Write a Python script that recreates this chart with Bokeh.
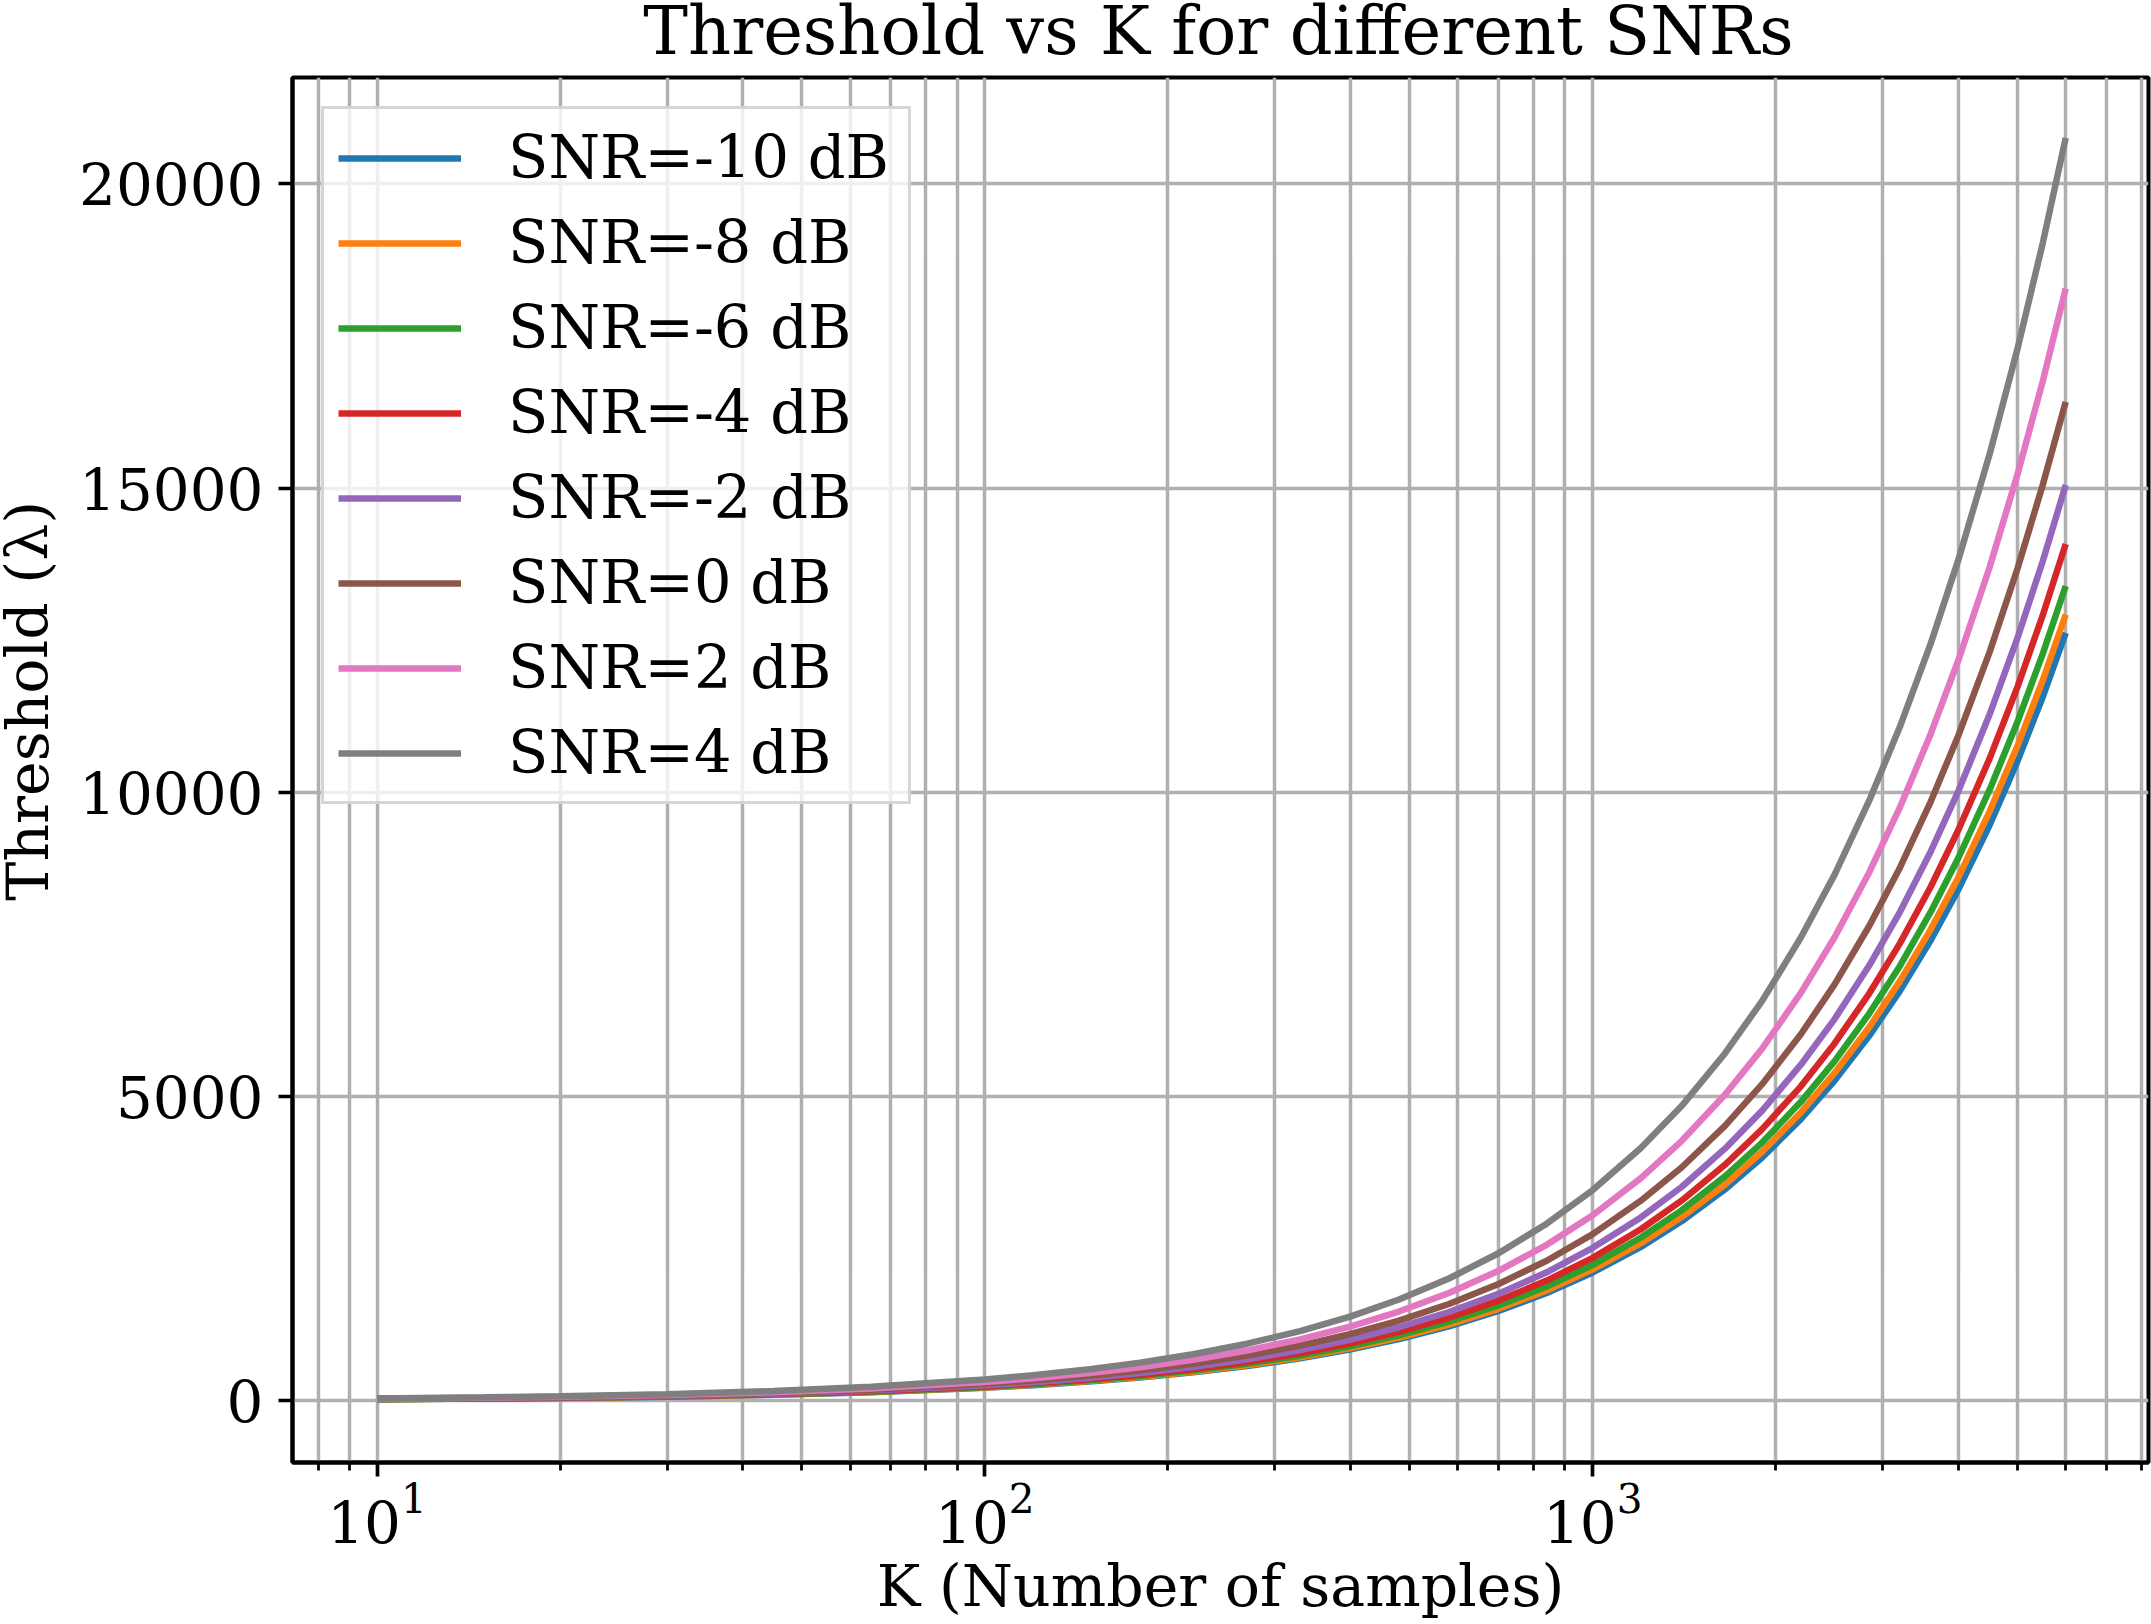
from bokeh.plotting import figure
from bokeh.layouts import column, row
from bokeh.models import Range1d, FixedTicker, Legend, LegendItem, Label
from bokeh.embed import file_html
from bokeh.resources import INLINE

# ---- data ----
K = [10, 15, 20, 30, 45, 65, 100, 120, 150, 180, 220, 270, 330, 400, 480, 580, 700, 840,
     1000, 1200, 1400, 1650, 1900, 2200, 2500, 2850, 3200, 3600, 4000, 4500, 5000, 5500, 6000]

snr_labels = ["SNR=-10 dB", "SNR=-8 dB", "SNR=-6 dB", "SNR=-4 dB",
              "SNR=-2 dB", "SNR=0 dB", "SNR=2 dB", "SNR=4 dB"]

thr_snr_m10 = [21, 32, 42, 63, 95, 137, 210, 252, 315, 379, 463, 568, 694, 841, 1009, 1220, 1472, 1767,
               2105, 2525, 2945, 3470, 3995, 4625, 5260, 5995, 6730, 7570, 8410, 9465, 10515, 11565, 12620]
thr_snr_m8 = [21, 32, 43, 65, 97, 140, 215, 258, 323, 388, 474, 581, 710, 861, 1033, 1249, 1507, 1809,
              2155, 2585, 3015, 3550, 4090, 4735, 5385, 6135, 6890, 7750, 8610, 9690, 10765, 11840, 12920]
thr_snr_m6 = [22, 33, 45, 67, 100, 145, 223, 268, 335, 402, 491, 603, 737, 893, 1071, 1295, 1562, 1875,
              2230, 2680, 3125, 3685, 4240, 4910, 5580, 6360, 7140, 8035, 8930, 10045, 11160, 12275, 13390]
thr_snr_m4 = [23, 35, 47, 70, 106, 153, 235, 282, 352, 422, 516, 634, 775, 939, 1127, 1361, 1643, 1971,
              2345, 2815, 3285, 3875, 4460, 5165, 5870, 6690, 7510, 8450, 9390, 10560, 11735, 12910, 14080]
thr_snr_m2 = [25, 38, 50, 75, 113, 163, 250, 301, 376, 451, 552, 677, 828, 1003, 1204, 1455, 1756, 2107,
              2510, 3010, 3510, 4140, 4765, 5520, 6270, 7150, 8025, 9030, 10030, 11285, 12540, 13795, 15050]
thr_snr_0 = [27, 41, 55, 82, 123, 178, 275, 328, 410, 492, 602, 739, 903, 1094, 1313, 1587, 1915, 2298,
             2735, 3285, 3830, 4515, 5200, 6020, 6840, 7800, 8755, 9850, 10945, 12310, 13680, 15050, 16415]
thr_snr_2 = [30, 46, 61, 91, 137, 198, 305, 366, 457, 548, 670, 822, 1005, 1218, 1462, 1767, 2132, 2559,
             3045, 3655, 4265, 5025, 5785, 6700, 7615, 8680, 9745, 10965, 12185, 13705, 15230, 16755, 18280]
thr_snr_4 = [35, 52, 69, 104, 156, 225, 345, 415, 519, 623, 761, 934, 1141, 1384, 1660, 2006, 2421, 2906,
             3460, 4150, 4840, 5705, 6570, 7610, 8645, 9860, 11070, 12450, 13835, 15565, 17295, 19025, 20755]

series = [thr_snr_m10, thr_snr_m8, thr_snr_m6, thr_snr_m4,
          thr_snr_m2, thr_snr_0, thr_snr_2, thr_snr_4]

colors = ["#1f77b4", "#ff7f0e", "#2ca02c", "#d62728",
          "#9467bd", "#8c564b", "#e377c2", "#7f7f7f"]

x_major = [10, 100, 1000]
x_minor = [8, 9, 20, 30, 40, 50, 60, 70, 80, 90,
           200, 300, 400, 500, 600, 700, 800, 900,
           2000, 3000, 4000, 5000, 6000, 7000, 8000]
y_major = [0, 5000, 10000, 15000, 20000]

title_text = "Threshold vs K for different SNRs"
x_label = "K (Number of samples)"
y_label = "Threshold (\u03bb)"

FONT = "DejaVu Serif"
W, H = 2151, 1624
TITLE_H = 73          # strip holding the title
YLAB_W = 75           # strip holding the y-axis label
MAIN_W = W - YLAB_W
MAIN_H = H - TITLE_H
FRAME_LEFT = 288      # canvas x of the plot frame's left edge
FRAME_TOP = 77
FRAME_BOTTOM = 1462
FRAME_RIGHT = 2148


def blank(width, height):
    f = figure(width=width, height=height, x_range=Range1d(0, width), y_range=Range1d(0, height),
               output_backend="svg", toolbar_location=None, title=None,
               min_border_left=0, min_border_right=0, min_border_top=0, min_border_bottom=0,
               x_axis_location=None, y_axis_location=None)
    f.outline_line_color = None
    f.xgrid.visible = False
    f.ygrid.visible = False
    f.background_fill_color = "white"
    f.border_fill_color = "white"
    return f


# ---- title strip ----
tf = blank(W, TITLE_H)
tf.add_layout(Label(x=(FRAME_LEFT + FRAME_RIGHT) / 2, y=TITLE_H - 30, text=title_text,
                    text_font=FONT, text_font_size="67px", text_color="black",
                    text_align="center", text_baseline="middle"))

# ---- y label strip ----
yf = blank(YLAB_W, MAIN_H)
yf.add_layout(Label(x=27, y=MAIN_H - (771 - TITLE_H), text=y_label, angle=1.5708,
                    text_font=FONT, text_font_size="58.5px", text_color="black",
                    text_align="center", text_baseline="middle"))

# ---- main plot ----
p = figure(width=MAIN_W, height=MAIN_H, x_axis_type="log",
           x_range=Range1d(7.26, 8210), y_range=Range1d(-1019, 21748),
           output_backend="svg", toolbar_location=None, title=None,
           min_border_left=FRAME_LEFT - YLAB_W, min_border_right=W - FRAME_RIGHT,
           min_border_top=FRAME_TOP - TITLE_H, min_border_bottom=H - FRAME_BOTTOM)

p.background_fill_color = "white"
p.border_fill_color = "white"
p.outline_line_color = "black"
p.outline_line_width = 4
p.outline_line_alpha = 1.0

p.xaxis.ticker = FixedTicker(ticks=x_major, minor_ticks=x_minor)
p.yaxis.ticker = FixedTicker(ticks=y_major, minor_ticks=[])
for ax in (p.xaxis[0], p.yaxis[0]):
    ax.axis_line_color = "black"
    ax.axis_line_width = 4
    ax.major_tick_line_color = "black"
    ax.major_tick_line_width = 3.7
    ax.major_tick_out = 14
    ax.major_tick_in = 0
    ax.minor_tick_line_color = "black"
    ax.minor_tick_line_width = 2.8
    ax.minor_tick_out = 8
    ax.minor_tick_in = 0
    ax.major_label_text_font = FONT
    ax.major_label_text_font_size = "58px"
    ax.major_label_text_color = "black"
p.xaxis.axis_label = x_label
p.xaxis.axis_label_text_font = FONT
p.xaxis.axis_label_text_font_size = "58.5px"
p.xaxis.axis_label_text_font_style = "normal"
p.xaxis.axis_label_text_color = "black"
p.xaxis.major_label_standoff = 5
p.xaxis.axis_label_standoff = 6
p.yaxis.major_label_standoff = 15

p.xgrid.grid_line_color = "#b0b0b0"
p.xgrid.grid_line_width = 3.5
p.xgrid.minor_grid_line_color = "#b0b0b0"
p.xgrid.minor_grid_line_width = 3.5
p.ygrid.grid_line_color = "#b0b0b0"
p.ygrid.grid_line_width = 3.5

items = []
for lab, vals, col in zip(snr_labels, series, colors):
    r = p.line(K, vals, line_color=col, line_width=6.5)
    items.append(LegendItem(label=lab, renderers=[r]))

legend = Legend(items=items, location="top_left", margin=29,
                padding=14, spacing=16,
                glyph_width=123, glyph_height=60, label_height=60, label_width=386,
                label_standoff=47,
                label_text_font=FONT, label_text_font_size="59px",
                label_text_color="black",
                background_fill_color="white", background_fill_alpha=0.8,
                border_line_color="#cccccc", border_line_width=3.7,
                border_line_alpha=0.8)
p.add_layout(legend)

layout = column(tf, row(yf, p, spacing=0), spacing=0)

open("out.html", "w").write(file_html(layout, INLINE))
